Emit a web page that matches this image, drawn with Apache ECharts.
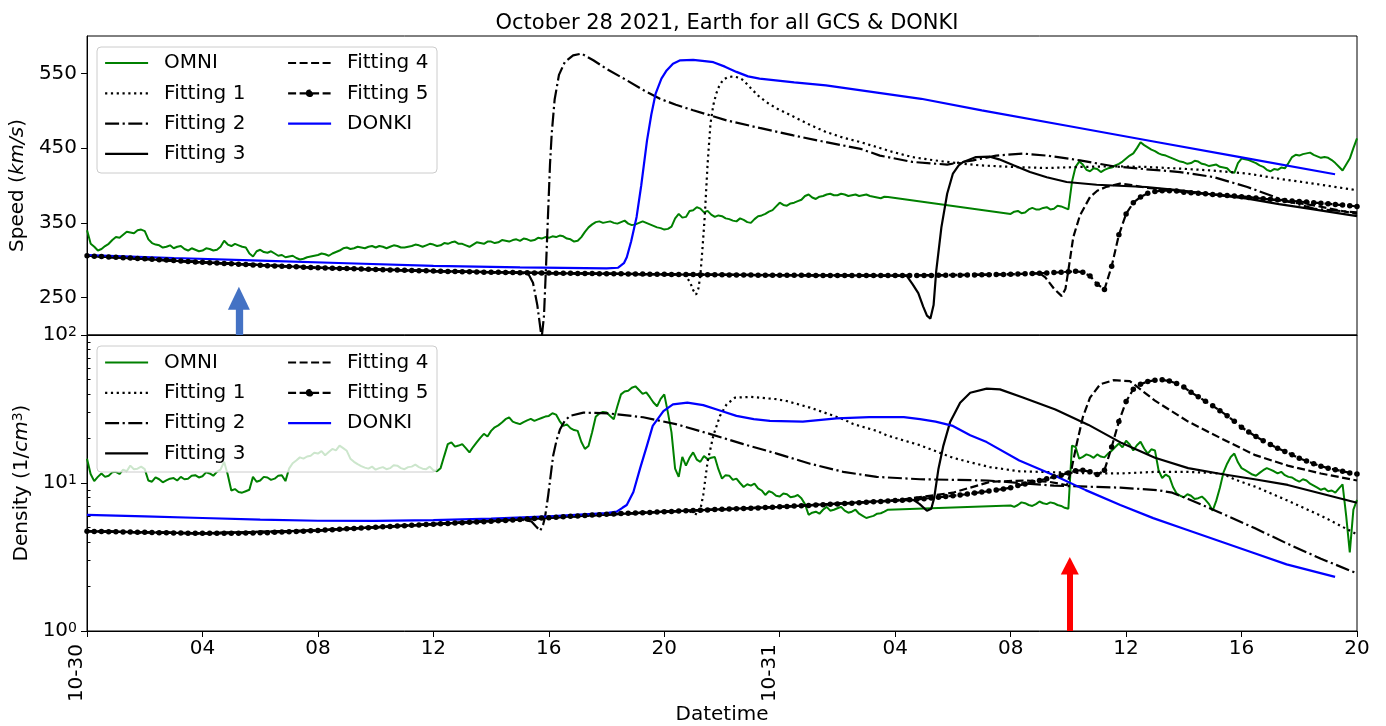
<!DOCTYPE html>
<html><head><meta charset="utf-8">
<script src="https://cdn.jsdelivr.net/npm/echarts@6/dist/echarts.min.js"></script>
<style>html,body{margin:0;padding:0;background:#fff;}#c{width:1386px;height:726px;}</style>
</head><body><div id="c"></div>
<script>
// ---------- DATA (hours since 2021-10-30 00:00) ----------
const TITLE = 'October 28 2021, Earth for all GCS & DONKI';
const dayLabels = ['10-30', '10-31'];
const dayTickHours = [0, 24];
const hourTickLabels = ['', '04', '08', '12', '16', '20', '', '04', '08', '12', '16', '20'];
const speedTicks = [250, 350, 450, 550];
const densityTicks = [1, 10, 100];
const densityMinorTicks = [2, 3, 4, 5, 6, 7, 8, 9, 20, 30, 40, 50, 60, 70, 80, 90];
const OMNI_STEP = 0.125; // sampling step (h) of OMNI
const FIT5_STEP = 0.25;  // sampling step (h) of Fitting 5

const omniSpeed = [
 340,322,318,313,315,319,322,327, 331,330,334,338,337,336,340,341,
 339,328,323,321,320,317,318,320, 316,318,319,315,313,316,314,312,
 313,316,315,313,314,318,326,321, 319,322,320,318,317,309,305,312,
 314,311,310,312,309,306,307,304, 305,306,303,301,302,304,305,306,
 307,309,308,306,309,311,313,316, 317,315,316,318,317,316,318,319,
 317,319,318,316,318,320,319,317, 317,318,319,321,320,318,320,322,
 321,319,320,323,322,324,325,322, 322,320,318,321,324,323,322,325,
 325,323,324,327,326,325,327,328, 326,329,328,326,327,330,329,331,
 330,332,331,333,332,329,328,325, 326,331,338,344,348,351,352,350,
 351,352,350,349,351,353,349,347, 348,350,352,350,348,346,344,343,
 341,342,345,356,362,357,358,366, 367,371,369,364,366,361,358,360,
 359,356,355,353,352,356,354,351, 350,355,359,360,362,365,367,372,
 377,374,373,376,377,379,381,386, 388,384,382,385,386,388,389,387,
 387,389,388,386,387,388,386,387, 388,386,385,384,383,385,384.6,null,
 null,null,null,null,null,null,null,null, null,null,null,null,null,null,null,null,
 null,null,null,null,null,null,null,null, null,null,null,null,null,null,null,null,
 362,365,366,363,364,368,370,368, 368,370,371,368,369,373,372,370,
 368,405,425,432,428,421,419,423, 422,418,421,423,424,427,429,432,
 436,440,443,450,458,454,451,448, 446,443,441,440,438,436,434,432,
 431,429,430,433,432,429,428,426, 427,428,425,424,423,418,417,430,
 436,435,434,432,430,427,425,421, 419,422,421,424,423,430,438,441,
 440,442,443,444,441,439,437,438, 437,434,430,425,420,428,436,450,
 463];
const omniDensity = [
 14.6,11.5,10.3,11.0,11.6,11.0,11.2,11.8, 11.9,11.5,12.3,12.0,13.1,12.4,12.5,12.9,
 12.4,10.4,10.2,10.9,10.6,10.1,10.4,10.7, 10.8,10.4,11.0,10.6,10.7,11.2,11.3,10.9,
 11.1,11.8,11.6,11.2,11.9,12.3,13.9,11.4, 8.9,9.1,8.7,8.6,8.8,9.0,11.0,10.2,
 10.4,11.0,10.9,10.5,10.7,11.2,11.3,10.3, 12.5,13.6,14.2,14.9,14.6,15.1,15.3,16.0,
 15.8,16.4,15.4,16.2,17.0,16.6,17.9,17.2, 16.5,14.6,13.9,13.4,13.0,12.7,12.5,12.9,
 12.3,12.6,12.8,12.4,12.6,13.2,13.1,12.6, 12.4,12.8,12.9,13.3,12.8,12.5,12.4,12.9,
 12.2,12.0,12.6,15.2,18.3,18.8,17.6,17.9, 18.3,17.2,16.1,17.5,18.8,20.2,21.5,20.6,
 22.5,23.8,24.5,25.6,27,27.8,26,25.4, 25,25.8,26.5,27.1,26.3,26.9,27.5,28.1,
 28.4,29.6,29,26.2,24.3,24.9,23.5,22.8, 22.5,19.0,17.0,17.8,22,28,29.5,30.2,
 29.9,28.4,27,33,39.7,41.5,42,44, 45,42.5,40,41,38,35,33,37,
 39.7,30,22,12.5,11,15,13.1,14.8, 16.1,14.4,13.9,15.2,14.5,14.8,15,12.4,
 10.7,11.3,11.2,10.5,10.7,10.0,9.4,9.8, 9.6,9.9,9.2,8.9,8.3,8.8,8.6,8.2,
 8.1,8.5,8.4,8.0,8.1,8.3,7.9,7.2, 6.1,6.3,6.4,6.2,6.6,6.9,6.5,6.6,
 6.75,6.9,6.5,6.3,6.4,6.6,6.2,6.0, 5.8,5.9,6.0,6.2,6.25,6.4,6.6,null,
 null,null,null,null,null,null,null,null, null,null,null,null,null,null,null,null,
 null,null,null,null,null,null,null,null, null,null,null,null,null,null,null,null,
 7.05,6.9,7.1,7.4,7.3,7.1,7.0,7.2, 7.5,7.3,7.2,7.4,7.3,7.1,7.0,6.8,
 6.7,17.9,17.5,14.6,15.0,15.6,15.3,14.8, 15.6,15.1,14.9,15.8,16.5,17.5,18.5,17.4,
 19.3,18.2,16.6,18.0,19.0,17.1,15.8,16.9, 16.6,12.2,10.8,11.4,11.0,9.4,8.5,8.2,
 8.0,8.4,8.2,7.8,7.9,8.1,7.7,7.2, 6.5,7.6,9.3,11.8,13.5,15.0,15.8,13.8,
 12.6,12.2,11.8,11.4,11.2,11.7,12.2,12.6, 12.3,12.0,11.6,11.9,11.3,11.0,10.9,10.5,
 10.2,10.6,10.4,9.9,9.6,9.3,9.0,9.2, 8.8,8.9,8.6,9.2,9.8,6.0,3.4,6.6,
 7.7];
const fit5Speed = [
 306,305.5,305,304.5, 304,303.5,303,302.5, 302,301.4,300.8,300.2, 299.6,299,298.4,297.8,
 297.2,296.7,296.2,295.7, 295.2,294.7,294.2,293.7, 293.2,292.8,292.4,292, 291.6,291.2,290.8,290.4,
 290,289.7,289.4,289.1, 288.8,288.5,288.2,287.9, 287.6,287.3,287,286.8, 286.5,286.3,286,285.8,
 285.5,285.3,285.1,284.9, 284.7,284.5,284.3,284.1, 283.9,283.8,283.6,283.5, 283.3,283.2,283,282.9,
 282.8,282.7,282.6,282.5, 282.4,282.3,282.2,282.1, 282,281.9,281.8,281.7, 281.6,281.5,281.4,281.3,
 281.2,281.1,281,280.9, 280.8,280.7,280.6,280.5, 280.5,280.4,280.3,280.3, 280.2,280.1,280.1,280,
 280,279.9,279.9,279.8, 279.8,279.7,279.7,279.6, 279.6,279.6,279.5,279.5, 279.5,279.5,279.5,279.5,
 279.5,279.5,279.6,279.6, 279.7,279.7,279.8,279.9, 280,280.1,280.2,280.4, 280.5,280.7,280.9,281.1,
 281.3,281.6,281.9,282.2, 282.6,283,283.5,284, 284.6,285.2,284,279, 268,261,292,334,
 362,377,384.5,389.5, 392,393,393,392.5, 391,390.3,389.5,388.8, 388,387.3,386.5,385.8,
 385,384.1,383.3,382.4, 381.5,380.8,380,379.3, 378.5,377.8,377,376.3, 375.5,374.6,373.8,372.9,
 372];
const fit5Density = [
 4.72,4.71,4.70,4.69, 4.68,4.67,4.66,4.65, 4.64,4.63,4.62,4.61, 4.60,4.59,4.58,4.58,
 4.57,4.57,4.57,4.57, 4.58,4.58,4.59,4.60, 4.61,4.62,4.64,4.66, 4.68,4.70,4.72,4.75,
 4.78,4.81,4.84,4.87, 4.90,4.93,4.96,4.99, 5.03,5.06,5.09,5.12, 5.15,5.18,5.21,5.24,
 5.27,5.30,5.33,5.36, 5.39,5.42,5.45,5.48, 5.51,5.55,5.59,5.63, 5.67,5.71,5.75,5.79,
 5.83,5.87,5.91,5.95, 5.99,6.03,6.07,6.11, 6.15,6.18,6.21,6.24, 6.27,6.30,6.33,6.36,
 6.40,6.43,6.46,6.49, 6.52,6.55,6.58,6.61, 6.64,6.67,6.70,6.73, 6.76,6.79,6.82,6.86,
 6.90,6.94,6.98,7.02, 7.06,7.10,7.14,7.18, 7.22,7.26,7.31,7.36, 7.41,7.46,7.51,7.56,
 7.62,7.65,7.70,7.76, 7.84,7.92,8.0,8.1, 8.2,8.30,8.42,8.55, 8.68,8.82,8.97,9.12,
 9.30,9.6,9.85,10.1, 10.4,10.7,11.0,11.3, 11.7,12.1,12.2,11.9, 11.4,12.2,17.5,26,
 35.5,43,46.5,48.5, 49.5,49.8,48.8,47, 44.5,41,38.3,35.7, 33.2,30.8,28.5,26.1,
 23.8,22.1,20.6,19.3, 18.2,17.2,16.3,15.5, 14.7,14.1,13.5,13.0, 12.6,12.3,12.0,11.7,
 11.5];

const fit1Speed = [[0,306],[4,297.2],[8,290],[12,285.5],[16,282.8],[20,281.2],[20.6,281],[20.75,279],[20.9,270],[21.0,260],[21.1,254],[21.18,262],[21.25,280],[21.33,320],[21.4,358],[21.5,429],[21.6,483],[21.7,508],[21.8,523],[21.9,533],[22.04,541.7],[22.2,545],[22.4,546],[22.6,544],[22.74,540.7],[23.0,530],[23.3,518.4],[23.6,510],[23.9,503],[24.5,491.7],[25.0,482],[25.6,471.6],[26.2,464],[26.8,458],[27.4,451],[27.9,445],[28.6,438],[29.2,434.5],[29.8,431.5],[30.9,427],[32.1,424.8],[33.25,423.4],[34.4,424.8],[35.56,425.7],[36.7,424.8],[37.87,422.6],[39,420],[40.2,416],[41.3,409],[42.5,402.5],[44,393.6]];
const fit2Speed = [[0,306],[4,297.2],[8,290],[12,285.5],[14,283.9],[15.0,283.3],[15.3,281],[15.45,270],[15.6,240],[15.75,196],[15.83,225],[15.9,290],[15.97,360],[16.04,429],[16.1,470],[16.2,515],[16.35,548],[16.55,565],[16.84,574],[17.13,576.5],[17.54,567.5],[18.0,556],[18.7,540.7],[19.3,527],[19.85,516],[20.4,508],[21,500.6],[22.17,487],[23.3,477],[24.47,467],[25.6,458],[26.8,449],[27.47,440],[28.6,431.5],[29.8,428],[30.7,433.7],[31.5,440],[32.44,442.7],[33.25,440],[34.4,433.7],[35.56,425.7],[36.7,421.7],[37.87,418],[39.02,411.4],[40.2,398],[41.3,382.5],[42.5,369],[44,364]];
const fit3Speed = [[0,306],[4,297.2],[8,290],[12,285.5],[16,282.8],[20,281.2],[24,280],[28,279.5],[28.4,279],[28.6,268],[28.8,256],[28.97,238],[29.1,226],[29.22,222],[29.33,240],[29.42,285],[29.6,344],[29.8,389],[30.0,416],[30.2,427],[30.36,431.5],[30.8,438],[31.28,438.5],[31.6,435],[32.1,427],[32.67,418],[33.25,411],[33.94,404.7],[34.98,401],[36.7,398],[37.87,393.6],[39,388],[40.2,382.5],[41.3,375],[42.5,368],[44,359]];
const fit4Speed = [[0,306],[4,297.2],[8,290],[12,285.5],[16,282.8],[20,281.2],[24,280],[28,279.5],[32,281.3],[33,282.6],[33.2,277],[33.5,262],[33.77,252],[33.9,262],[34.0,286.6],[34.17,331],[34.4,360],[34.75,384.6],[35.0,393],[35.3,398],[35.79,402.5],[36.2,400.5],[36.7,397],[37.87,393],[39,388],[40.2,384.6],[41.3,380],[42.5,373.5],[44,362]];
const donkiSpeed = [[0,307],[3,303],[6,299.5],[9,296],[12,292.5],[15,290.5],[18,289],[18.4,290],[18.6,296],[18.7,304],[18.85,325],[19.04,358],[19.2,400],[19.4,460],[19.55,495],[19.7,523],[19.9,543],[20.08,554],[20.3,563],[20.55,567.5],[21.0,568],[21.4,566.5],[21.7,565],[22.1,559],[22.5,552],[22.9,546],[23.3,543],[24.5,538],[25.6,534],[28.9,516],[31,500.5],[34,479.6],[37,458.5],[40,437.6],[43.24,415]];

const fit1Density = [[0,4.72],[4,4.57],[8,4.78],[12,5.27],[16,5.83],[20,6.40],[20.8,6.5],[21.0,6.3],[21.15,6.1],[21.25,6.6],[21.35,8.3],[21.5,13.9],[21.7,20.9],[21.93,28.4],[22.16,34],[22.45,37.7],[23.0,38.2],[23.9,36.8],[24.24,35.8],[25.05,32.3],[25.4,30.6],[26.2,27],[26.55,25],[27.36,22.5],[27.7,21],[28.86,18],[30,14.8],[30.6,13.8],[31.28,12.8],[32.3,12],[33.6,11.8],[35,11.6],[35.8,11.6],[37.06,11.9],[38.1,11.9],[39.0,11.7],[39.37,11.5],[39.8,10.5],[40.5,9.4],[41.6,7.6],[42.8,5.95],[44,4.5]];
const fit2Density = [[0,4.72],[4,4.57],[8,4.78],[12,5.27],[15,5.67],[15.4,5.5],[15.55,5.1],[15.7,4.76],[15.8,5.2],[15.87,5.9],[15.98,8.3],[16.07,11.5],[16.15,15.3],[16.27,19.5],[16.39,23.1],[16.55,26.3],[16.73,28.4],[17.2,29.9],[18.1,29.5],[19.27,27.8],[20.4,25],[21.6,21.4],[22.74,18.3],[23.9,15.8],[25.05,13.5],[26.2,11.9],[27.36,11],[28.86,10.6],[31.2,10.4],[33.5,9.6],[35.8,9.3],[37.1,8.95],[37.6,8.6],[38.15,7.8],[39.3,6.25],[40.45,4.96],[41.6,3.88],[42.75,3.08],[44,2.45]];
const fit3Density = [[0,4.72],[4,4.57],[8,4.78],[12,5.27],[16,5.83],[20,6.40],[24,6.90],[28,7.62],[28.63,7.7],[28.85,7.2],[29.1,6.5],[29.25,6.7],[29.35,7.9],[29.5,12.5],[29.67,17.9],[29.9,25.7],[30.25,34.9],[30.6,40.7],[31.17,43.4],[31.63,42.9],[32.4,38],[33.55,31.4],[34.7,24.7],[35.85,18.6],[37.0,14.8],[38.15,12.6],[39.3,11.5],[40.45,10.6],[41.6,9.7],[42.75,8.5],[44,7.35]];
const fit4Density = [[0,4.72],[4,4.57],[8,4.78],[12,5.27],[16,5.83],[20,6.40],[24,6.90],[28,7.62],[30,8.6],[31.3,10.2],[32.5,10.4],[33.3,10.2],[33.7,9.9],[33.95,9.65],[34.1,12.2],[34.29,18.4],[34.5,27.8],[34.75,37.7],[35.1,46.4],[35.56,49.5],[36.13,48.8],[37.0,36],[38.15,26],[39.3,20],[40.45,15.5],[41.6,13.1],[42.75,11.6],[44,10.4]];
const donkiDensity = [[0,6.09],[2,5.95],[4,5.8],[6,5.65],[8,5.56],[10,5.55],[12,5.62],[14,5.75],[16,5.95],[18,6.25],[18.35,6.4],[18.55,6.8],[18.7,7.1],[18.93,8.7],[19.16,12.5],[19.4,17.9],[19.6,24.3],[19.97,30.6],[20.3,34],[20.8,34.9],[21.35,33.6],[21.9,31],[22.5,28.4],[23.1,27],[23.66,26.3],[24.8,26],[25.97,27.3],[27.1,27.9],[28.3,27.9],[28.86,27],[29.4,26],[30,24.3],[30.6,21],[31.17,18.9],[32.3,14.2],[33.5,11.3],[34.6,8.95],[35.8,7.1],[36.94,5.79],[38.1,4.83],[39.25,4.04],[40.4,3.38],[41.56,2.82],[43.24,2.32]];

// annotation arrows: [hour, from value, to value]
const speedArrow = [5.26, 200, 249];
const densityArrow = [34.05, 1, 2.76];

// ---------- CHART ----------
const FONT = 'DejaVu Sans';
const sampled = (arr, step) => arr.map((v, i) => [i * step, v]);
const LW = 2.2;
const styles = {
  'OMNI':      {color: '#008000', type: 'solid', width: 2},
  'Fitting 1': {color: '#000', type: [LW, 3.6], width: LW},
  'Fitting 2': {color: '#000', type: [14, 3.5, LW, 3.5], width: LW},
  'Fitting 3': {color: '#000', type: 'solid', width: LW},
  'Fitting 4': {color: '#000', type: [8, 3.5], width: LW},
  'Fitting 5': {color: '#000', type: [8, 3.5], width: LW},
  'DONKI':     {color: '#0000ff', type: 'solid', width: LW}
};
function line(name, data, panel) {
  const s = styles[name];
  const marker = name === 'Fitting 5';
  return {
    type: 'line', name, data, xAxisIndex: panel, yAxisIndex: panel,
    symbol: marker ? 'circle' : 'none', symbolSize: 5.5, showSymbol: marker,
    itemStyle: {color: s.color},
    lineStyle: {color: s.color, width: s.width, type: s.type},
    connectNulls: true, silent: true, animation: false, z: 2
  };
}
function arrow(a, panel, color, width, size) {
  return {
    type: 'line', name: 'arrow' + panel, data: [], xAxisIndex: panel, yAxisIndex: panel, silent: true,
    markLine: {
      silent: true, animation: false, symbol: ['none', 'triangle'], symbolSize: size,
      label: {show: false}, lineStyle: {color, width, type: 'solid'},
      emphasis: {disabled: true},
      data: [[{coord: [a[0], a[1]]}, {coord: [a[0], a[2]]}]]
    }
  };
}
// legend icons: a horizontal line filling a 43x6 box (plus a dot for Fitting 5)
const LINE_ICON = 'path://M0,0L0,0M0,3L43,3M43,6L43,6';
const DOT_ICON = 'path://M0,0L0,0M0,3L43,3M43,6L43,6M18.8,3A2.7,2.7,0,1,0,24.2,3A2.7,2.7,0,1,0,18.8,3Z';
function legendItem(name) {
  const s = styles[name];
  const dot = name === 'Fitting 5';
  return {name, icon: dot ? DOT_ICON : LINE_ICON,
    itemStyle: {color: dot ? '#000' : 'transparent', borderColor: s.color, borderWidth: s.width, borderType: s.type}};
}
const txt = {fontFamily: FONT, color: '#000', fontSize: 20};
const legendBase = {
  orient: 'vertical', itemWidth: 43, itemHeight: 6, itemGap: 10.3, padding: 0,
  selectedMode: false, z: 5,
  textStyle: Object.assign({}, txt, {lineHeight: 20, padding: [0, 0, 0, 11]})
};
const col1 = ['OMNI', 'Fitting 1', 'Fitting 2', 'Fitting 3'];
const col2 = ['Fitting 4', 'Fitting 5', 'DONKI'];

const option = {
  animation: false,
  backgroundColor: '#fff',
  title: {text: TITLE, left: 722, textAlign: 'center', top: 8, textStyle: Object.assign({}, txt, {fontWeight: 'normal', fontSize: 21})},
  grid: [
    {left: 87, top: 36, width: 1270, height: 299, show: true, borderColor: '#000', borderWidth: 1, backgroundColor: 'transparent'},
    {left: 87, top: 335, width: 1270, height: 299, show: true, borderColor: '#000', borderWidth: 1, backgroundColor: 'transparent'}
  ],
  legend: [
    Object.assign({}, legendBase, {data: col1.map(legendItem), left: 104, top: 53}),
    Object.assign({}, legendBase, {data: col2.map(legendItem), left: 287, top: 53}),
    Object.assign({}, legendBase, {data: col1.map(legendItem), left: 104, top: 352.5}),
    Object.assign({}, legendBase, {data: col2.map(legendItem), left: 287, top: 352.5})
  ],
  graphic: [
    {type: 'rect', z: 3, silent: true, shape: {x: 97, y: 47, width: 340, height: 126, r: 4}, style: {fill: 'rgba(255,255,255,0.8)', stroke: '#cccccc', lineWidth: 1}},
    {type: 'rect', z: 3, silent: true, shape: {x: 97, y: 346, width: 340, height: 126, r: 4}, style: {fill: 'rgba(255,255,255,0.8)', stroke: '#cccccc', lineWidth: 1}}
  ],
  xAxis: [
    {gridIndex: 0, type: 'value', min: 0, max: 44, interval: 4, axisLine: {lineStyle: {color: '#000'}}, axisTick: {show: false}, axisLabel: {show: false}, splitLine: {show: false}},
    {gridIndex: 1, type: 'value', min: 0, max: 44, interval: 4,
     axisLine: {lineStyle: {color: '#000'}}, axisTick: {length: 6, lineStyle: {color: '#000'}},
     axisLabel: Object.assign({}, txt, {margin: 8, formatter: v => hourTickLabels[Math.round(v / 4)] || ''}),
     splitLine: {show: false},
     name: 'Datetime', nameLocation: 'middle', nameGap: 74, nameTextStyle: txt},
    {gridIndex: 1, type: 'value', min: 0, max: 44, position: 'bottom',
     axisLine: {show: false}, axisTick: {show: false}, splitLine: {show: false},
     axisLabel: Object.assign({}, txt, {customValues: dayTickHours, rotate: 90, margin: 13, verticalAlign: 'bottom',
       formatter: v => dayLabels[dayTickHours.indexOf(Math.round(v))] || ''})}
  ],
  yAxis: [
    {gridIndex: 0, type: 'value', min: 200, max: 600,
     axisLine: {show: true, lineStyle: {color: '#000'}},
     axisTick: {show: true, length: 6, customValues: speedTicks, lineStyle: {color: '#000'}},
     axisLabel: Object.assign({}, txt, {margin: 10, customValues: speedTicks}),
     splitLine: {show: false},
     name: 'Speed ({i|km/s})', nameLocation: 'middle', nameGap: 50, nameRotate: 90,
     nameTextStyle: Object.assign({}, txt, {rich: {i: Object.assign({}, txt, {fontStyle: 'italic'})}})},
    {gridIndex: 1, type: 'log', logBase: 10, min: 1, max: 100,
     axisLine: {show: true, lineStyle: {color: '#000'}},
     axisTick: {show: true, length: 6, customValues: densityTicks, lineStyle: {color: '#000'}},
     axisLabel: Object.assign({}, txt, {margin: 10, customValues: densityTicks,
       formatter: v => '10{s|' + Math.round(Math.log10(v)) + '}',
       rich: {s: Object.assign({}, txt, {fontSize: 14, verticalAlign: 'top', lineHeight: 14})}}),
     splitLine: {show: false},
     name: 'Density (1/{i|cm}{s|3})', nameLocation: 'middle', nameGap: 48, nameRotate: 90,
     nameTextStyle: Object.assign({}, txt, {rich: {
       i: Object.assign({}, txt, {fontStyle: 'italic'}),
       s: Object.assign({}, txt, {fontSize: 14, verticalAlign: 'top', lineHeight: 14})}})},
    {gridIndex: 1, type: 'log', logBase: 10, min: 1, max: 100,
     axisLine: {show: false}, axisLabel: {show: false}, splitLine: {show: false},
     axisTick: {show: true, length: 3.5, customValues: densityMinorTicks, lineStyle: {color: '#000'}}}
  ],
  series: [
    line('OMNI', sampled(omniSpeed, OMNI_STEP), 0),
    line('Fitting 1', fit1Speed, 0),
    line('Fitting 2', fit2Speed, 0),
    line('Fitting 3', fit3Speed, 0),
    line('Fitting 4', fit4Speed, 0),
    line('Fitting 5', sampled(fit5Speed, FIT5_STEP), 0),
    line('DONKI', donkiSpeed, 0),
    line('OMNI', sampled(omniDensity, OMNI_STEP), 1),
    line('Fitting 1', fit1Density, 1),
    line('Fitting 2', fit2Density, 1),
    line('Fitting 3', fit3Density, 1),
    line('Fitting 4', fit4Density, 1),
    line('Fitting 5', sampled(fit5Density, FIT5_STEP), 1),
    line('DONKI', donkiDensity, 1),
    arrow(speedArrow, 0, '#4472C4', 7.3, [22, 23]),
    arrow(densityArrow, 1, '#ff0000', 6, [18, 17.5])
  ]
};
const chart = echarts.init(document.getElementById('c'), null, {renderer: 'canvas'});
chart.setOption(option);
</script>
</body></html>
